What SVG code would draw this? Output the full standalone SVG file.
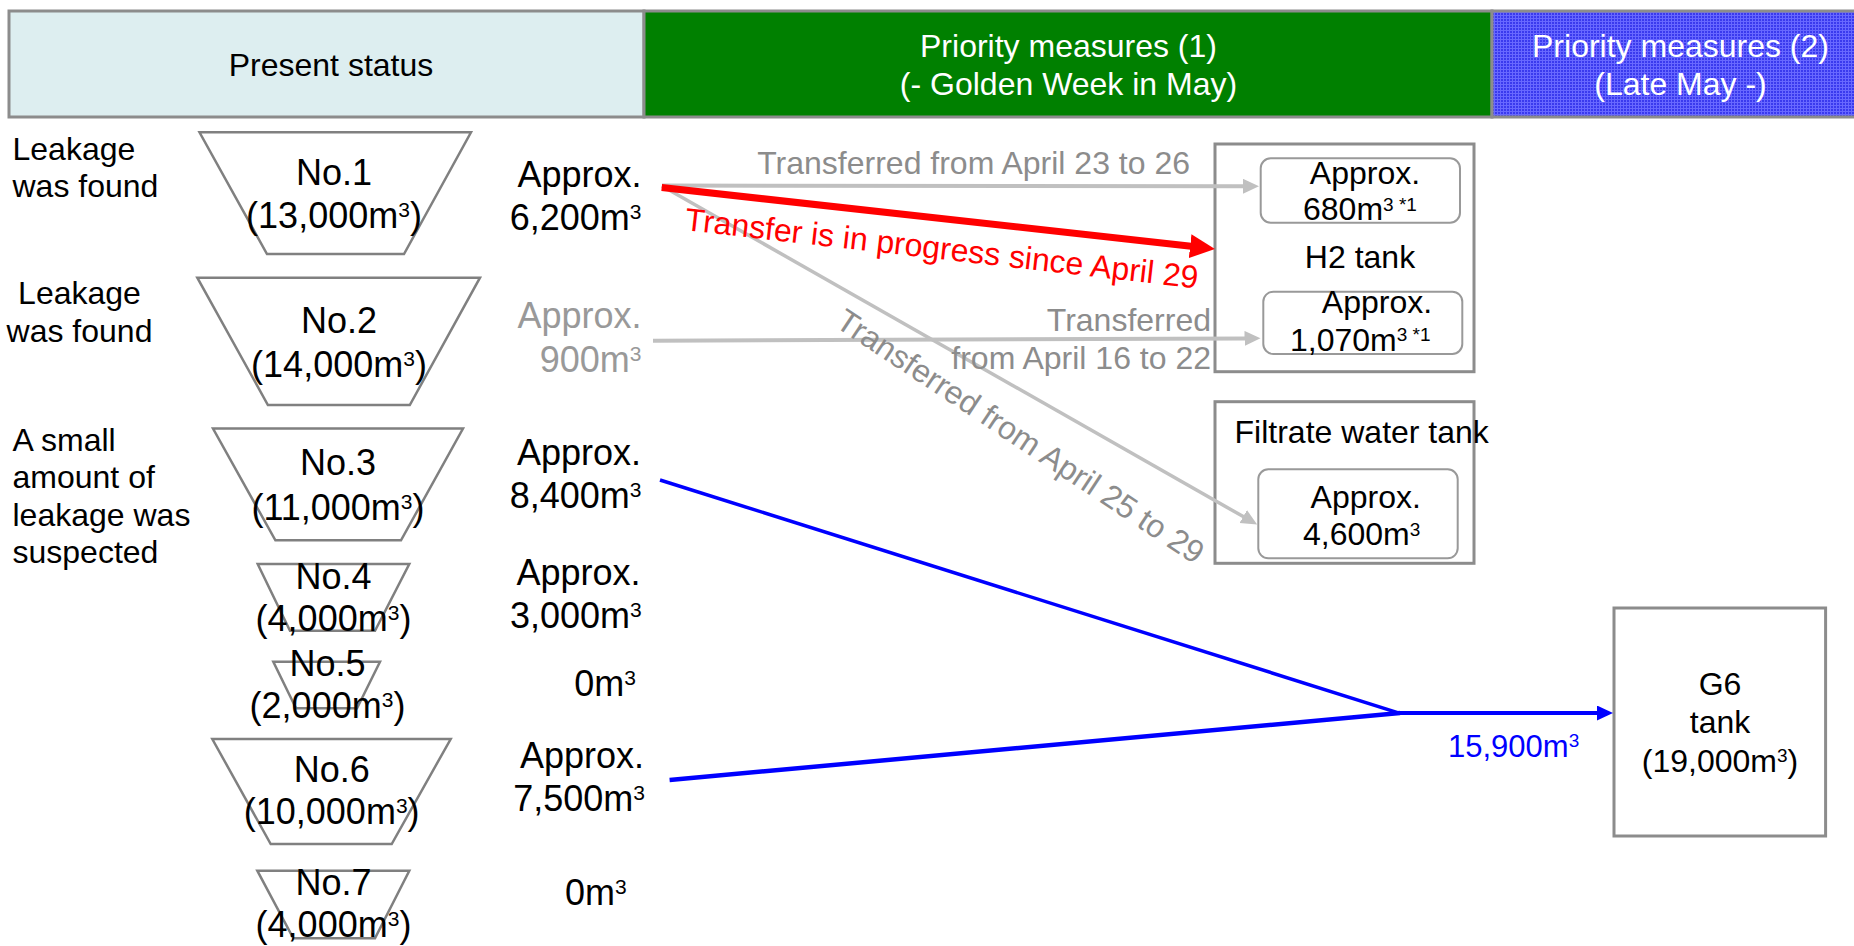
<svg xmlns="http://www.w3.org/2000/svg" width="1854" height="946" viewBox="0 0 1854 946">
<defs>
<pattern id="bluegrid" width="3" height="3" patternUnits="userSpaceOnUse">
<rect width="3" height="3" fill="#3a3aee"/>
<rect width="3" height="1" fill="#6868ff"/>
<rect width="1" height="3" fill="#6868ff"/>
</pattern>
<marker id="arrGray" markerUnits="userSpaceOnUse" markerWidth="18" markerHeight="16" refX="1" refY="7.5" orient="auto">
<path d="M0,0 L16,7.5 L0,15 z" fill="#c0c0c0"/>
</marker>
<marker id="arrRed" markerUnits="userSpaceOnUse" markerWidth="26" markerHeight="26" refX="1" refY="12" orient="auto">
<path d="M0,0 L25,12 L0,24 z" fill="#ff0000"/>
</marker>
<marker id="arrBlue" markerUnits="userSpaceOnUse" markerWidth="18" markerHeight="16" refX="1" refY="7.5" orient="auto">
<path d="M0,0 L16,7.5 L0,15 z" fill="#0000ff"/>
</marker>
<style>
text { font-family: "Liberation Sans", Arial, sans-serif; }
.hcell { stroke: #8c8c8c; stroke-width: 3; }
.hdr { font-size: 32px; text-anchor: middle; }
.wt { fill: #ffffff; }
.bk { fill: #000000; }
.tank { fill: #ffffff; stroke: #808080; stroke-width: 2.5; }
.tl { font-size: 36px; text-anchor: middle; fill: #000; }
.st { font-size: 32px; fill: #000; }
.vol { font-size: 36px; text-anchor: end; fill: #000; }
.lg { fill: #999999; }
.box { fill: #ffffff; stroke: #8c8c8c; stroke-width: 3; }
.ibox { fill: #ffffff; stroke: #999999; stroke-width: 2; }
.bt { font-size: 32px; fill: #000; }
.mid { text-anchor: middle; }
.glab { font-size: 32px; fill: #8c8c8c; }
.gline { stroke: #c0c0c0; fill: none; }
.bline { stroke: #0000ff; fill: none; }
.s36 { font-size: 21px; }
.s32 { font-size: 19px; }
</style>
</defs>

<g id="header">
<g id="hdr-present">
<rect class="hcell" x="9" y="11" width="635" height="106" fill="#ddeef0"/>
<text class="hdr bk" x="331" y="76">Present status</text>
</g>
<g id="hdr-priority1">
<rect class="hcell" x="644" y="11" width="848" height="106" fill="#008000"/>
<text class="hdr wt" x="1068.5" y="56.5">Priority measures (1)</text>
<text class="hdr wt" x="1068.5" y="95">(- Golden Week in May)</text>
</g>
<g id="hdr-priority2">
<rect class="hcell" x="1492" y="11" width="370" height="106" fill="url(#bluegrid)"/>
<text class="hdr wt" x="1680.5" y="56.5">Priority measures (2)</text>
<text class="hdr wt" x="1680.5" y="95">(Late May -)</text>
</g>
</g>

<g id="status-labels">
<text class="st" x="12.5" y="160">Leakage</text>
<text class="st" x="12.5" y="197">was found</text>
<text class="st mid" x="79.5" y="304">Leakage</text>
<text class="st mid" x="79.5" y="341.5">was found</text>
<text class="st" x="12.5" y="450.5">A small</text>
<text class="st" x="12.5" y="488">amount of</text>
<text class="st" x="12.5" y="525.5">leakage was</text>
<text class="st" x="12.5" y="563">suspected</text>
</g>

<g id="tank1">
<polygon class="tank" points="199.5,132.3 471,132.3 404,254 267,254"/>
<text class="tl" x="334" y="185">No.1</text>
<text class="tl" x="334" y="228">(13,000m<tspan class="s36" dy="-11">3</tspan><tspan dy="11">)</tspan></text>
</g>
<g id="tank2">
<polygon class="tank" points="197.3,277.7 480,277.7 409.8,405 267.9,405"/>
<text class="tl" x="339" y="333.3">No.2</text>
<text class="tl" x="339" y="377">(14,000m<tspan class="s36" dy="-11">3</tspan><tspan dy="11">)</tspan></text>
</g>
<g id="tank3">
<polygon class="tank" points="213,428.6 463,428.6 401,540.3 275.4,540.3"/>
<text class="tl" x="338" y="475">No.3</text>
<text class="tl" x="338" y="520">(11,000m<tspan class="s36" dy="-11">3</tspan><tspan dy="11">)</tspan></text>
</g>
<g id="tank4">
<polygon class="tank" points="257.7,564 409.3,564 375,630.7 290,630.7"/>
<text class="tl" x="333.5" y="589.3">No.4</text>
<text class="tl" x="333.5" y="630.7">(4,000m<tspan class="s36" dy="-11">3</tspan><tspan dy="11">)</tspan></text>
</g>
<g id="tank5">
<polygon class="tank" points="273.3,661.7 380,661.7 357,708.3 296,708.3"/>
<text class="tl" x="327.5" y="676">No.5</text>
<text class="tl" x="327.5" y="718.3">(2,000m<tspan class="s36" dy="-11">3</tspan><tspan dy="11">)</tspan></text>
</g>
<g id="tank6">
<polygon class="tank" points="212.3,739 450.7,739 391.7,844 270.7,844"/>
<text class="tl" x="331.7" y="781.5">No.6</text>
<text class="tl" x="331.7" y="824">(10,000m<tspan class="s36" dy="-11">3</tspan><tspan dy="11">)</tspan></text>
</g>
<g id="tank7">
<polygon class="tank" points="257.3,870.7 409.3,870.7 375,938.3 293.3,938.3"/>
<text class="tl" x="333.5" y="895">No.7</text>
<text class="tl" x="333.5" y="936.7">(4,000m<tspan class="s36" dy="-11">3</tspan><tspan dy="11">)</tspan></text>
</g>

<g id="volumes">
<text class="vol" x="641.5" y="186.7">Approx.</text>
<text class="vol" x="641.5" y="230">6,200m<tspan class="s36" dy="-11">3</tspan></text>
<text class="vol lg" x="641.5" y="328.3">Approx.</text>
<text class="vol lg" x="641.5" y="371.7">900m<tspan class="s36" dy="-11">3</tspan></text>
<text class="vol" x="641" y="464.5">Approx.</text>
<text class="vol" x="641.5" y="507.5">8,400m<tspan class="s36" dy="-11">3</tspan></text>
<text class="vol" x="640.5" y="585">Approx.</text>
<text class="vol" x="641.7" y="628.3">3,000m<tspan class="s36" dy="-11">3</tspan></text>
<text class="vol" x="636" y="696">0m<tspan class="s36" dy="-11">3</tspan></text>
<text class="vol" x="644" y="768.3">Approx.</text>
<text class="vol" x="645" y="810.7">7,500m<tspan class="s36" dy="-11">3</tspan></text>
<text class="vol" x="626.7" y="905">0m<tspan class="s36" dy="-11">3</tspan></text>
</g>

<g id="h2-tank">
<rect class="box" x="1215" y="144" width="259" height="227.7"/>
<text class="bt mid" x="1360" y="268.3">H2 tank</text>
</g>
<g id="h2-part1">
<rect class="ibox" x="1260.7" y="158.3" width="199.3" height="64.4" rx="10"/>
<text class="bt mid" x="1365" y="184">Approx.</text>
<text class="bt" x="1303" y="220">680m<tspan class="s32" dy="-9.5">3 *1</tspan></text>
</g>
<g id="h2-part2">
<rect class="ibox" x="1263.3" y="291.7" width="199" height="62.3" rx="10"/>
<text class="bt mid" x="1377" y="313.3">Approx.</text>
<text class="bt" x="1290" y="350.7">1,070m<tspan class="s32" dy="-9.5">3 *1</tspan></text>
</g>
<g id="filtrate-tank">
<rect class="box" x="1215" y="401.7" width="259" height="161.6"/>
<text class="bt mid" x="1361.7" y="443.3">Filtrate water tank</text>
</g>
<g id="filtrate-part">
<rect class="ibox" x="1258.3" y="469.3" width="199.4" height="89" rx="10"/>
<text class="bt mid" x="1365.7" y="508.3">Approx.</text>
<text class="bt mid" x="1361.7" y="545">4,600m<tspan class="s32" dy="-9.5">3</tspan></text>
</g>
<g id="g6-tank">
<rect class="box" x="1614" y="608" width="211.6" height="228"/>
<text class="bt mid" x="1720" y="695">G6</text>
<text class="bt mid" x="1720" y="732.7">tank</text>
<text class="bt mid" x="1720" y="771.7">(19,000m<tspan class="s32" dy="-9.5">3</tspan><tspan dy="9.5">)</tspan></text>
</g>

<g id="connectors">
<line class="gline" x1="662" y1="185.5" x2="1244" y2="186.3" stroke-width="4" marker-end="url(#arrGray)"/>
<line class="gline" x1="653" y1="340.7" x2="1245.5" y2="338.4" stroke-width="4" marker-end="url(#arrGray)"/>
<line class="gline" x1="662" y1="186" x2="1244.1" y2="517.1" stroke-width="3.5" marker-end="url(#arrGray)"/>
<line x1="661.7" y1="187.5" x2="1191.1" y2="246.3" stroke="#ff0000" stroke-width="7" marker-end="url(#arrRed)"/>
<line class="bline" x1="660" y1="480" x2="1400" y2="713.3" stroke-width="3.5"/>
<line class="bline" x1="669.6" y1="780" x2="1400" y2="713" stroke-width="4.5"/>
<line class="bline" x1="1398" y1="713" x2="1598" y2="713" stroke-width="4" marker-end="url(#arrBlue)"/>
</g>

<g id="connector-labels">
<text class="glab" x="1190" y="174" text-anchor="end">Transferred from April 23 to 26</text>
<text class="glab" x="1211" y="331" text-anchor="end">Transferred</text>
<text class="glab" x="1211" y="369" text-anchor="end">from April 16 to 22</text>
<text class="glab" x="1014.5" y="445.5" text-anchor="middle" transform="rotate(33.5 1014.5 445.5)">Transferred from April 25 to 29</text>
<text x="684" y="230" font-size="32" fill="#ff0000" transform="rotate(6.5 684 230)">Transfer is in progress since April 29</text>
<text x="1448" y="756.7" font-size="31" fill="#0000ff">15,900m<tspan class="s32" dy="-9.5">3</tspan></text>
</g>
</svg>
